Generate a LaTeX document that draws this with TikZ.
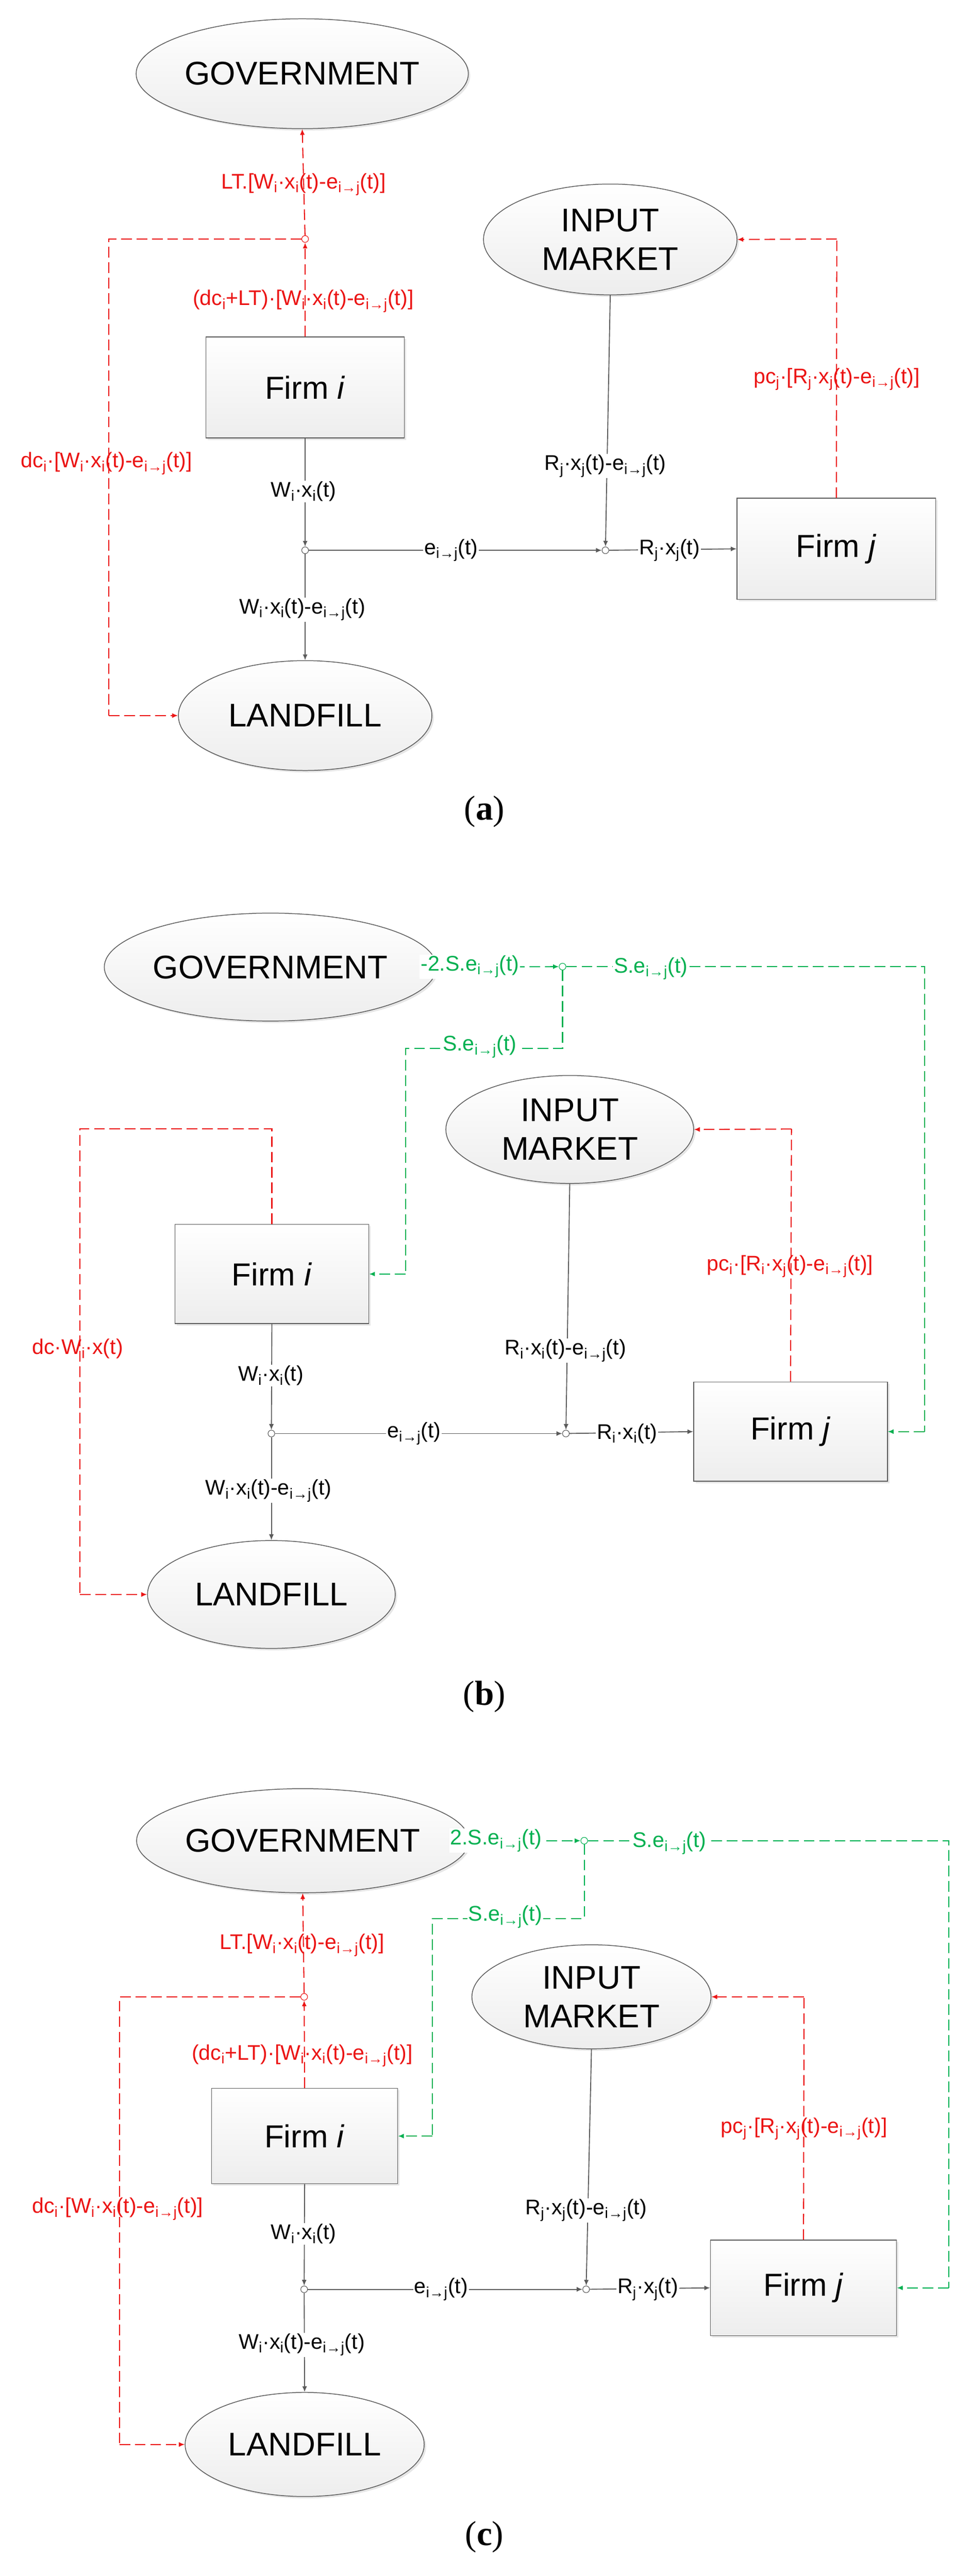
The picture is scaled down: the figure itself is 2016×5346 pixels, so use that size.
\documentclass[tikz,border=0pt]{standalone}
\usepackage{fontspec}
\setmainfont{Liberation Sans}
\newfontfamily\capf{Liberation Serif}
\usetikzlibrary{shapes.geometric,arrows.meta,shadows}
\definecolor{rd}{RGB}{235,20,20}
\definecolor{gn}{RGB}{0,176,80}
\definecolor{ln}{RGB}{90,90,90}
\newcommand\sbx[1]{\textsubscript{#1}}
\newcommand\eij{e\sbx{i→j}(t)}
\begin{document}
\begin{tikzpicture}[x=0.5pt,y=-0.5pt,
  ell/.style={ellipse,draw=ln,line width=0.8pt,top color=white,bottom color=gray!14,
     drop shadow={shadow xshift=2pt,shadow yshift=-2pt,opacity=0.2},inner sep=0pt,
     align=center,font=\fontsize{34}{40}\selectfont},
  box/.style={rectangle,draw=ln,line width=0.8pt,top color=white,bottom color=gray!14,
     drop shadow={shadow xshift=2pt,shadow yshift=-2pt,opacity=0.2},inner sep=0pt,
     font=\fontsize{33}{38}\selectfont},
  jn/.style={circle,draw=ln,fill=white,line width=0.6pt,inner sep=0pt,minimum size=7pt},
  jr/.style={jn,draw=rd},
  jg/.style={jn,draw=gn},
  fl/.style={draw=ln,line width=1pt,-{Latex[length=6pt,width=5pt]}},
  rdl/.style={draw=rd,line width=1.1pt,dash pattern=on 11pt off 5pt},
  rda/.style={rdl,-{Latex[length=6pt,width=5pt]}},
  gnl/.style={draw=gn,line width=1.1pt,dash pattern=on 11pt off 5pt},
  gna/.style={gnl,-{Latex[length=6pt,width=5pt]}},
  lb/.style={fill=white,inner sep=1pt,font=\fontsize{22}{24}\selectfont,text=black},
  lr/.style={inner sep=1pt,font=\fontsize{22}{24}\selectfont,text=rd},
  lg/.style={fill=white,inner sep=1pt,font=\fontsize{22}{24}\selectfont,text=gn},
  captxt/.style={font=\capf\fontsize{36}{40}\selectfont}]
\useasboundingbox (0,0) rectangle (2016,5346);
% ================= (a)
\node[ell,minimum width=263pt,minimum height=114pt] (aG) at (627,153) {GOVERNMENT};
\node[ell,minimum width=263pt,minimum height=115pt] (aIM) at (1266,497) {INPUT\\MARKET};
\node[ell,minimum width=263pt,minimum height=114pt] (aL) at (633,1485) {LANDFILL};
\node[box,minimum width=206pt,minimum height=105pt] (aFi) at (633,804) {Firm \textit{i}};
\node[box,minimum width=206pt,minimum height=105pt] (aFj) at (1735,1139) {Firm \textit{j}};
\node[jr] (aR) at (633,496) {};
\node[jn] (aJ1) at (633,1142) {};
\node[jn] (aJ2) at (1256,1142) {};
\coordinate (aC1) at (226,496);
\coordinate (aC2) at (226,1485);
\coordinate (aC3) at (1736,496);
\draw[rda] (aR) -- (aG.south);
\draw[rda] (aFi.north) -- (aR);
\draw[rdl] (aR) -- (aC1) -- (aC2);
\draw[rda] (aC2) -- (aL.west);
\draw[rdl] (aFj.north) -- (aC3);
\draw[rda] (aC3) -- (aIM.east);
\draw[fl] (aFi.south) -- (aJ1);
\draw[fl] (aJ1) -- (aL.north);
\draw[fl] (aJ1) -- (aJ2);
\draw[fl] (aIM.south) -- (aJ2);
\draw[fl] (aJ2) -- (aFj.west);
\node[lr] (aLT) at (630,383) {LT.[W\sbx{i}·x\sbx{i}(t)-\eij]};
\node[lr] (aDL) at (629,625) {(dc\sbx{i}+LT)·[W\sbx{i}·x\sbx{i}(t)-\eij]};
\node[lr] (aDC) at (221,962) {dc\sbx{i}·[W\sbx{i}·x\sbx{i}(t)-\eij]};
\node[lr] (aPC) at (1736,787) {pc\sbx{j}·[R\sbx{j}·x\sbx{j}(t)-\eij]};
\node[lb] (aW) at (630,1020) {W\sbx{i}·x\sbx{i}(t)};
\node[lb] (aWE) at (627,1265) {W\sbx{i}·x\sbx{i}(t)-\eij};
\node[lb] (aE) at (936,1142) {\eij};
\node[lb] (aRE) at (1256,967) {R\sbx{j}·x\sbx{j}(t)-\eij};
\node[lb] (aRX) at (1389,1142) {R\sbx{j}·x\sbx{j}(t)};
\node[captxt] (acap) at (1005,1684) {(\textbf{a})};
% ================= (b)
\node[ell,minimum width=257pt,minimum height=112pt] (bG) at (561,2007) {GOVERNMENT};
\node[ell,minimum width=257pt,minimum height=112pt] (bIM) at (1182,2344) {INPUT\\MARKET};
\node[ell,minimum width=257pt,minimum height=112pt] (bL) at (563,3309) {LANDFILL};
\node[box,minimum width=201pt,minimum height=103pt] (bFi) at (564,2644) {Firm \textit{i}};
\node[box,minimum width=201pt,minimum height=103pt] (bFj) at (1640,2971) {Firm \textit{j}};
\node[jg] (bG0) at (1167,2006) {};
\node[jn] (bJ1) at (563,2975) {};
\node[jn] (bJ2) at (1174,2975) {};
\coordinate (bg1) at (1918,2006);
\coordinate (bg2) at (1918,2971);
\coordinate (bg3) at (1167,2176);
\coordinate (bg4) at (841,2176);
\coordinate (bg5) at (841,2644);
\coordinate (br1) at (564,2343);
\coordinate (br2) at (166,2343);
\coordinate (br3) at (166,3309);
\coordinate (br4) at (1642,2343);
\draw[gna] (bG.east) -- (bG0);
\draw[gnl] (bG0) -- (bg1) -- (bg2);
\draw[gna] (bg2) -- (bFj.east);
\draw[gnl] (bG0) -- (bg3) -- (bg4) -- (bg5);
\draw[gna] (bg5) -- (bFi.east);
\draw[rdl] (bFi.north) -- (br1) -- (br2) -- (br3);
\draw[rda] (br3) -- (bL.west);
\draw[rdl] (bFj.north) -- (br4);
\draw[rda] (br4) -- (bIM.east);
\draw[fl] (bFi.south) -- (bJ1);
\draw[fl] (bJ1) -- (bL.north);
\draw[fl] (bJ1) -- (bJ2);
\draw[fl] (bIM.south) -- (bJ2);
\draw[fl] (bJ2) -- (bFj.west);
\node[lg] (b2S) at (975,2006) {-2.S.\eij};
\node[lg] (bS1) at (1350,2010) {S.\eij};
\node[lg] (bS2) at (995,2172) {S.\eij};
\node[lr] (bDC) at (161,2799) {dc·W\sbx{i}·x(t)};
\node[lr] (bPC) at (1639,2628) {pc\sbx{i}·[R\sbx{i}·x\sbx{j}(t)-\eij]};
\node[lb] (bW) at (562,2855) {W\sbx{i}·x\sbx{i}(t)};
\node[lb] (bWE) at (557,3094) {W\sbx{i}·x\sbx{i}(t)-\eij};
\node[lb] (bE) at (859,2975) {\eij};
\node[lb] (bRE) at (1173,2803) {R\sbx{i}·x\sbx{i}(t)-\eij};
\node[lb] (bRX) at (1301,2975) {R\sbx{i}·x\sbx{i}(t)};
\node[captxt] (bcap) at (1005,3521) {(\textbf{b})};
% ================= (c)
\node[ell,minimum width=248pt,minimum height=108pt] (cG) at (628,3820) {GOVERNMENT};
\node[ell,minimum width=248pt,minimum height=108pt] (cIM) at (1227,4144) {INPUT\\MARKET};
\node[ell,minimum width=248pt,minimum height=108pt] (cL) at (632,5073) {LANDFILL};
\node[box,minimum width=193pt,minimum height=99pt] (cFi) at (632,4433) {Firm \textit{i}};
\node[box,minimum width=193pt,minimum height=99pt] (cFj) at (1667,4748) {Firm \textit{j}};
\node[jg] (cG0) at (1212,3820) {};
\node[jr] (cR) at (631,4144) {};
\node[jn] (cJ1) at (631,4751) {};
\node[jn] (cJ2) at (1216,4751) {};
\coordinate (cg1) at (1968,3820);
\coordinate (cg2) at (1968,4748);
\coordinate (cg3) at (1212,3982);
\coordinate (cg4) at (897,3982);
\coordinate (cg5) at (897,4433);
\coordinate (cr1) at (248,4144);
\coordinate (cr2) at (248,5073);
\coordinate (cr3) at (1668,4144);
\draw[gna] (cG.east) -- (cG0);
\draw[gnl] (cG0) -- (cg1) -- (cg2);
\draw[gna] (cg2) -- (cFj.east);
\draw[gnl] (cG0) -- (cg3) -- (cg4) -- (cg5);
\draw[gna] (cg5) -- (cFi.east);
\draw[rda] (cR) -- (cG.south);
\draw[rda] (cFi.north) -- (cR);
\draw[rdl] (cR) -- (cr1) -- (cr2);
\draw[rda] (cr2) -- (cL.west);
\draw[rdl] (cFj.north) -- (cr3);
\draw[rda] (cr3) -- (cIM.east);
\draw[fl] (cFi.south) -- (cJ1);
\draw[fl] (cJ1) -- (cL.north);
\draw[fl] (cJ1) -- (cJ2);
\draw[fl] (cIM.south) -- (cJ2);
\draw[fl] (cJ2) -- (cFj.west);
\node[lg] (c2S) at (1029,3820) {2.S.\eij};
\node[lg] (cS1) at (1389,3825) {S.\eij};
\node[lg] (cS2) at (1048,3978) {S.\eij};
\node[lr] (cLT) at (627,4037) {LT.[W\sbx{i}·x\sbx{i}(t)-\eij]};
\node[lr] (cDL) at (627,4266) {(dc\sbx{i}+LT)·[W\sbx{i}·x\sbx{i}(t)-\eij]};
\node[lr] (cDC) at (244,4584) {dc\sbx{i}·[W\sbx{i}·x\sbx{i}(t)-\eij]};
\node[lr] (cPC) at (1668,4418) {pc\sbx{j}·[R\sbx{j}·x\sbx{j}(t)-\eij]};
\node[lb] (cW) at (630,4636) {W\sbx{i}·x\sbx{i}(t)};
\node[lb] (cWE) at (626,4866) {W\sbx{i}·x\sbx{i}(t)-\eij};
\node[lb] (cE) at (915,4751) {\eij};
\node[lb] (cRE) at (1216,4587) {R\sbx{j}·x\sbx{j}(t)-\eij};
\node[lb] (cRX) at (1344,4751) {R\sbx{j}·x\sbx{j}(t)};
\node[captxt] (ccap) at (1005,5265) {(\textbf{c})};
\end{tikzpicture}
\end{document}
